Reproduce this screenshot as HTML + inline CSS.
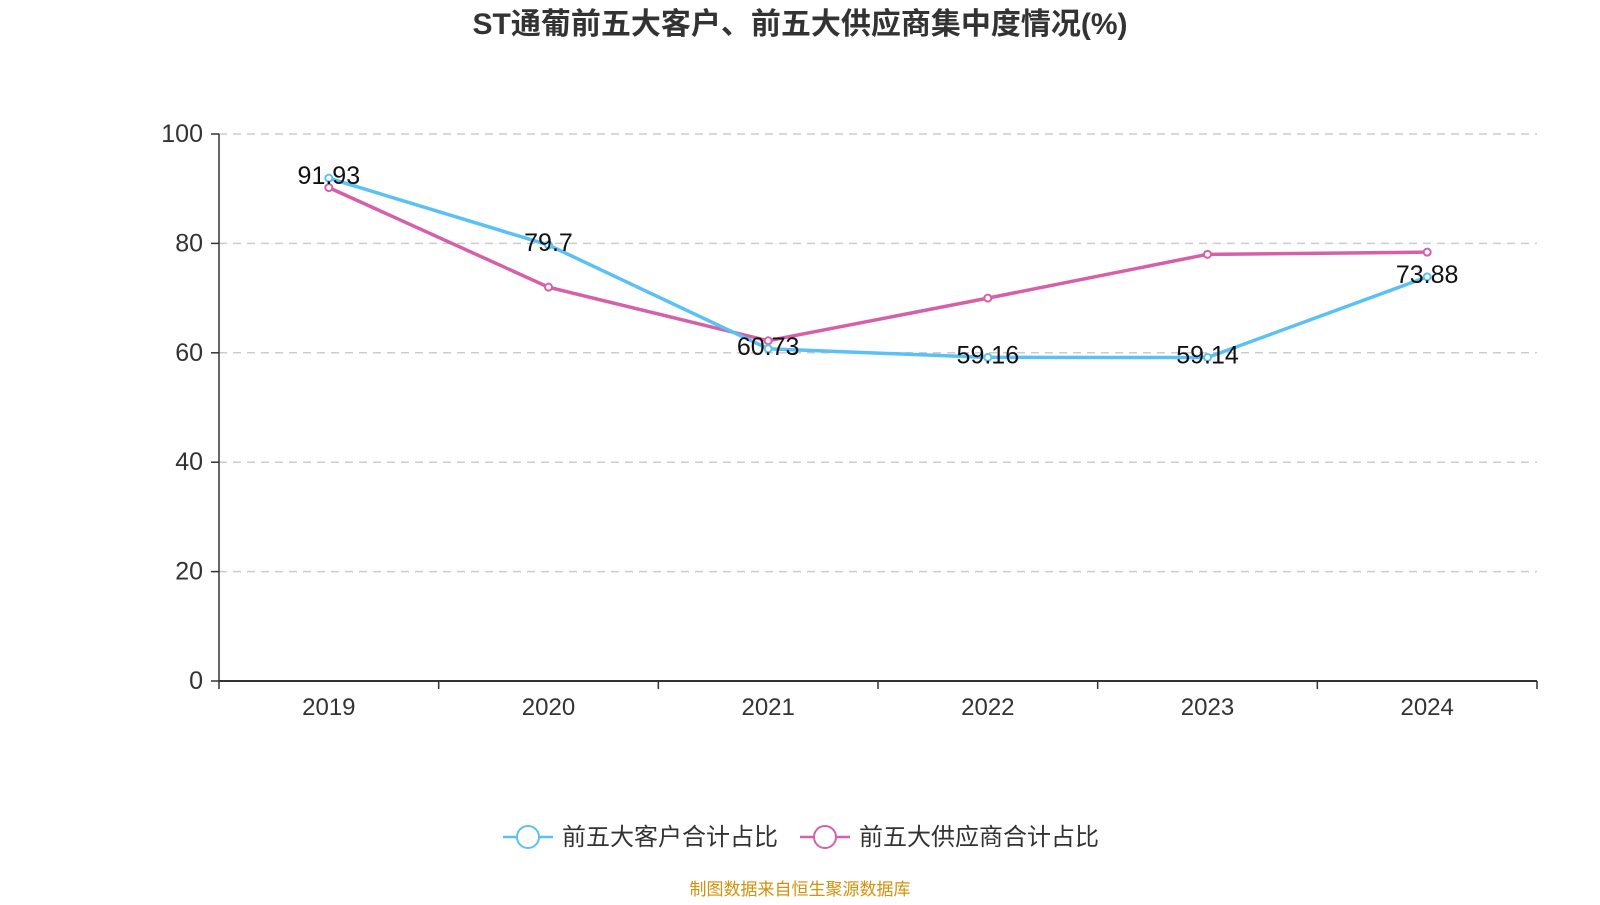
<!DOCTYPE html>
<html><head><meta charset="utf-8"><style>
body{margin:0;background:#fff;font-family:"Liberation Sans","Noto Sans CJK SC",sans-serif;}
svg text{font-family:"Liberation Sans","Noto Sans CJK SC",sans-serif;}
</style></head><body>
<svg id="c" width="1600" height="900" xmlns="http://www.w3.org/2000/svg">
<text x="800" y="34" text-anchor="middle" font-size="30" font-weight="bold" fill="#333">ST通葡前五大客户、前五大供应商集中度情况(%)</text>
<g id="grid"></g><g id="axes"></g><g id="series"></g>
<g>
<g><line x1="503" y1="837" x2="553" y2="837" stroke="#5bc0f5" stroke-width="2.5"/><circle cx="528" cy="837" r="11" fill="#fff" stroke="#5bc0f5" stroke-width="2"/><text x="562" y="845" font-size="24" fill="#333">前五大客户合计占比</text></g>
<g><line x1="800" y1="837" x2="850" y2="837" stroke="#d660a8" stroke-width="2.5"/><circle cx="825" cy="837" r="11" fill="#fff" stroke="#d660a8" stroke-width="2"/><text x="859" y="845" font-size="24" fill="#333">前五大供应商合计占比</text></g>
</g>
<text x="800" y="895" text-anchor="middle" font-size="17" fill="#d4900a">制图数据来自恒生聚源数据库</text>
</svg>
<script>
const categories=["2019","2020","2021","2022","2023","2024"];
const customers=[91.93,79.7,60.73,59.16,59.14,73.88];
const suppliers=[90.2,72.0,62.2,70.0,78.0,78.4];
const yTicks=[0,20,40,60,80,100];
const NS="http://www.w3.org/2000/svg";
const L=219,R=1537,T=134,B=681;
const bw=(R-L)/categories.length;
const x=i=>L+bw*(i+0.5);
const y=v=>B-(v/100)*(B-T);
function mk(t,a,p){const e=document.createElementNS(NS,t);for(const k in a)e.setAttribute(k,a[k]);p.appendChild(e);return e;}
const grid=document.getElementById('grid'),axes=document.getElementById('axes'),ser=document.getElementById('series');
yTicks.forEach(v=>{
 if(v>0){const g=mk('line',{x1:L,x2:R,y1:y(v),y2:y(v),stroke:'#ccc','stroke-dasharray':'8,6','stroke-width':1.5},grid);
 
 }
 mk('line',{x1:L-8,x2:L,y1:y(v),y2:y(v),stroke:'#333','stroke-width':1.5},axes);
 const t=mk('text',{x:L-16,y:y(v)+8,'text-anchor':'end','font-size':25,fill:'#333'},axes);t.textContent=v;
 
 
});
mk('line',{x1:L,x2:L,y1:T,y2:B,stroke:'#333','stroke-width':1.5},axes);
mk('line',{x1:L,x2:R,y1:B,y2:B,stroke:'#333','stroke-width':2},axes);
for(let i=0;i<=categories.length;i++)mk('line',{x1:L+bw*i,x2:L+bw*i,y1:B,y2:B+8,stroke:'#333','stroke-width':1.5},axes);
categories.forEach((c,i)=>{const t=mk('text',{x:x(i),y:B+34,'text-anchor':'middle','font-size':24,fill:'#333'},axes);t.textContent=c;
 
 });
function series(vals,color,name,labels){
 const p=mk('polyline',{points:vals.map((v,i)=>x(i)+','+y(v)).join(' '),fill:'none',stroke:color,'stroke-width':3.5},ser);
 
 
 vals.forEach((v,i)=>{const c=mk('circle',{cx:x(i),cy:y(v),r:3.5,fill:'#fff',stroke:color,'stroke-width':2},ser);
  
  
  if(labels){const t=mk('text',{x:x(i),y:y(v)+6,'text-anchor':'middle','font-size':25,fill:'#111'},ser);t.textContent=v;
  
  }
 });
}
series(suppliers,'#d660a8','suppliers',false);
series(customers,'#5bc0f5','customers',true);
</script>
</body></html>
